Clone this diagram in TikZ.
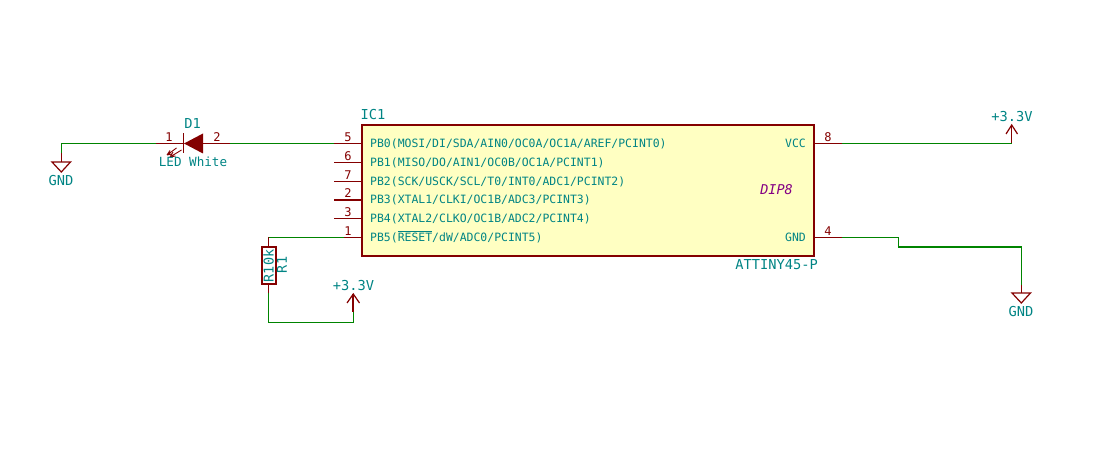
\documentclass[tikz,border=0pt]{standalone}
\usepackage{fontspec}
\newfontfamily\kifont{DejaVu Sans Mono}
\definecolor{kired}{RGB}{132,0,0}
\definecolor{kigreen}{RGB}{0,132,0}
\definecolor{kiteal}{RGB}{0,132,132}
\definecolor{kifill}{RGB}{255,255,194}
\definecolor{kipurple}{RGB}{132,0,132}
\tikzset{
  wire/.style={draw=kigreen,line width=1.2pt},
  thickwire/.style={draw=kigreen,line width=2.2pt},
  pinline/.style={draw=kired,line width=1.2pt},
  pinthick/.style={draw=kired,line width=2.2pt},
  body/.style={draw=kired,line width=2.6pt,line join=miter},
  pintext/.style={text=kiteal,inner sep=0pt,font=\kifont\fontsize{11.45}{13}\selectfont},
  pinnum/.style={text=kired,inner sep=0pt,anchor=base,font=\kifont\fontsize{12}{14}\selectfont},
  reflabel/.style={text=kiteal,inner sep=0pt,font=\kifont\fontsize{13.7}{15}\selectfont},
}
\begin{document}
\begin{tikzpicture}[x=1pt,y=-1pt]
\useasboundingbox (0,0) rectangle (1106,454);
% IC body
\node[body,fill=kifill,minimum width=452pt,minimum height=131pt,inner sep=0pt,anchor=center] (ic) at (588,190.5) {};
% IC pins
\foreach \nm/\yy/\bb/\num in {a/143.5/142/5,b/162.5/161/6,c/181.5/180/7,e/218.5/216.8/3,f/237.5/236/1}{
  \coordinate (pin\nm) at (334,\yy);
  \draw[pinline] (pin\nm) -- (362,\yy);
  \node[pinnum] (num\nm) at (348,\bb) {\num};
}
\coordinate (pind) at (334,200);
\draw[pinthick] (pind) -- (362,200);
\node[pinnum] (numd) at (348,198) {2};
\coordinate (pinv) at (842,143.5);
\coordinate (ping) at (842,237.5);
\draw[pinline] (814,143.5) -- (pinv);
\draw[pinline] (814,237.5) -- (ping);
\node[pinnum] (numv) at (828,141.8) {8};
\node[pinnum] (numg) at (828,235.8) {4};
% IC pin texts
\node[pintext,anchor=base west] (ta) at (370,147.5) {PB0(MOSI/DI/SDA/AIN0/OC0A/OC1A/AREF/PCINT0)};
\node[pintext,anchor=base west] (tb) at (370,166.5) {PB1(MISO/DO/AIN1/OC0B/OC1A/PCINT1)};
\node[pintext,anchor=base west] (tc) at (370,185.5) {PB2(SCK/USCK/SCL/T0/INT0/ADC1/PCINT2)};
\node[pintext,anchor=base west] (td) at (370,204) {PB3(XTAL1/CLKI/OC1B/ADC3/PCINT3)};
\node[pintext,anchor=base west] (te) at (370,222.5) {PB4(XTAL2/CLKO/OC1B/ADC2/PCINT4)};
\node[pintext,anchor=base west] (tf) at (370,241.5) {PB5($\overline{\hbox{RESET}}$/dW/ADC0/PCINT5)};
\node[pintext,anchor=base east] (tv) at (806,147.5) {VCC};
\node[pintext,anchor=base east] (tg) at (806,241.5) {GND};
\node[reflabel,anchor=base west] (icref) at (360.5,120) {IC1};
\node[reflabel,anchor=base east] (icval) at (818,270) {ATTINY45-P};
\node[text=kipurple,inner sep=0pt,font=\kifont\itshape\fontsize{13.5}{15}\selectfont] (icfp) at (776.5,190) {DIP8};
% LED
\coordinate (ledk) at (156,143.5);
\coordinate (leda) at (230,143.5);
\draw[pinline] (ledk) -- (183,143.5);
\draw[pinline] (203,143.5) -- (leda);
\draw[pinline] (183.5,133.5) -- (183.5,153.5);
\fill[kired] (184,143.5) -- (203,133.5) -- (203,153.5) -- cycle;
\draw[kired,line width=.9pt] (181.5,150) -- (170,157) (170,157) -- (173,152) (170,157) -- (175.5,156);
\draw[kired,line width=.9pt] (176.5,148) -- (167,155) (167,155) -- (170,150.5) (167,155) -- (172,154);
\node[pinnum] (nled1) at (169,141.8) {1};
\node[pinnum] (nled2) at (217,141.8) {2};
\node[reflabel,anchor=base] (dref) at (192.5,129) {D1};
\node[reflabel,font=\kifont\fontsize{12.6}{15}\selectfont,anchor=base] (dval) at (193,167) {LED White};
% GND left
\coordinate (gl) at (61.3,162);
\coordinate (glw) at (61.3,153);
\draw[pinline] (glw) -- (gl);
\draw[pinline,line join=miter] (52,162) -- (70.5,162) -- (61.3,172) -- cycle;
\node[reflabel,anchor=base] (gltext) at (61,186) {GND};
\draw[wire] (ledk) -- (61.3,143.5) -- (glw);
\draw[wire] (leda) -- (pina);
% Resistor
\node[body,line width=2pt,minimum width=14pt,minimum height=37pt,inner sep=0pt,anchor=center] (r1) at (268.5,266) {};
\coordinate (rb) at (268.5,293);
\draw[pinline] (r1.south) -- (rb);
\draw[pinline] (r1.north) -- (268.5,237.5);
\draw[wire] (268.5,237.5) -- (344,237.5);
\node[reflabel,font=\kifont\fontsize{13.5}{15}\selectfont,rotate=90,anchor=center] (rval) at (268.5,266) {R10k};
\node[reflabel,font=\kifont\fontsize{13.5}{15}\selectfont,rotate=90,anchor=center] (rref) at (282,265) {R1};
% +3.3V lower
\coordinate (pwa) at (353.3,312);
\coordinate (pwat) at (353.3,294);
\draw[pinthick] (pwa) -- (pwat);
\draw[pinline] (347,303) -- (353.3,294) -- (359.5,303);
\node[reflabel,anchor=base] (pwatext) at (353.5,291) {+3.3V};
\draw[wire] (rb) -- (268.5,322.3) -- (353.3,322.3) -- (pwa);
% +3.3V right
\coordinate (pwb) at (1011.7,143.5);
\coordinate (pwbt) at (1011.7,125);
\draw[pinline] (pwb) -- (pwbt);
\draw[pinline] (1006,134) -- (1011.7,125) -- (1017.5,134);
\node[reflabel,anchor=base] (pwbtext) at (1012,122) {+3.3V};
\draw[wire] (pinv) -- (pwb);
% GND right
\coordinate (gr) at (1021.3,293);
\coordinate (grw) at (1021.3,285);
\draw[pinline] (grw) -- (gr);
\draw[pinline,line join=miter] (1012,293) -- (1030.5,293) -- (1021.3,303) -- cycle;
\node[reflabel,anchor=base] (grtext) at (1021,317) {GND};
\draw[wire] (ping) -- (898.5,237.5) -- (898.5,246.7);
\draw[thickwire] (897.9,246.7) -- (1021.9,246.7);
\draw[wire] (1021.3,246.7) -- (grw);
\end{tikzpicture}
\end{document}
